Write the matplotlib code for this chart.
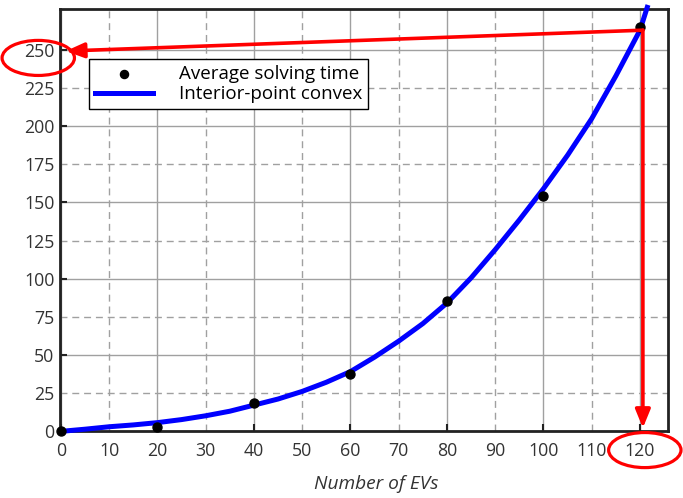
import matplotlib
matplotlib.use('Agg')
import matplotlib.pyplot as plt
from matplotlib.patches import Ellipse

# measured solving times
ev_counts = [0, 20, 40, 60, 80, 100, 120]
solve_times = [0, 2.6, 18.6, 37.5, 85, 154, 265]

# interior-point convex curve
curve_x = [1.5, 5, 10, 15, 20, 25, 30, 35, 40, 45, 50, 55, 60, 65, 70,
           75, 80, 85, 90, 95, 100, 105, 110, 115, 120, 121.5]
curve_y = [0.2, 1.2, 2.8, 4, 5.5, 7.5, 10, 13, 17, 21, 26, 32, 39, 48.5, 59,
           70.5, 84, 100.5, 119, 138.5, 159, 181, 205, 233, 263, 278]

x_major = [0, 20, 40, 60, 80, 100, 120]
x_minor = [10, 30, 50, 70, 90, 110]
y_major = [0, 50, 100, 150, 200, 250]
y_minor = [25, 75, 125, 175, 225]

# highlighted reading
hit_x, hit_y = 120.6, 263

plt.rcParams['font.family'] = ['Open Sans', 'DejaVu Sans']

fig = plt.figure(figsize=(6.83, 4.98), dpi=100)
ax = fig.add_axes([0.0878, 0.1345, 0.8902, 0.8465])
ax.set_xlim(-0.2, 125.8)
ax.set_ylim(0, 276.6)

ax.set_xticks(x_major, [str(v) for v in x_major])
ax.set_xticks(x_minor, [str(v) for v in x_minor], minor=True)
ax.set_yticks(y_major, [str(v) for v in y_major])
ax.set_yticks(y_minor, [str(v) for v in y_minor], minor=True)

ax.grid(which='major', color='#a0a0a0', linewidth=1.0, linestyle='-')
ax.grid(which='minor', color='#a0a0a0', linewidth=1.0, linestyle=(0, (5, 3.5)))
ax.set_axisbelow(True)

ax.tick_params(which='major', direction='in', length=5, width=1.5, color='#222222',
               labelsize=12.8, labelcolor='#333333')
ax.tick_params(which='minor', length=0, labelsize=12.8, labelcolor='#333333')
ax.tick_params(axis='x', which='both', pad=8)
ax.tick_params(axis='y', which='both', pad=4)

for s in ax.spines.values():
    s.set_linewidth(2)
    s.set_color('#222222')

ax.scatter(ev_counts, solve_times, s=42, color='black', zorder=4, clip_on=False,
           label='Average solving time')
ax.plot(curve_x, curve_y, color='#0000ff', linewidth=3.6, zorder=3, clip_on=False,
        solid_joinstyle='round', label='Interior-point convex')

arrow = dict(arrowstyle='-|>,head_length=1.1,head_width=0.45', color='#ff0000',
             linewidth=2.6, shrinkA=0, shrinkB=0)
ax.annotate('', xy=(1, 249.3), xytext=(hit_x, hit_y), arrowprops=arrow,
            annotation_clip=False, zorder=5)
ax.annotate('', xy=(hit_x, 2), xytext=(hit_x, hit_y), arrowprops=arrow,
            annotation_clip=False, zorder=5)

for cx, cy in [(-4.7, 244.8), (121, -12.5)]:
    ax.add_patch(Ellipse((cx, cy), 15.0, 23.0, fill=False, edgecolor='#ff0000',
                         linewidth=2.3, clip_on=False, zorder=6))

leg = ax.legend(loc='upper left', bbox_to_anchor=(0.048, 0.8826), fontsize=13.5,
                frameon=True, fancybox=False, framealpha=1, edgecolor='black',
                handlelength=3.1, handletextpad=1.4, labelspacing=0.15,
                borderpad=0.3, borderaxespad=0, markerscale=0.9)
leg.get_frame().set_linewidth(1.0)

ax.set_xlabel('Number of EVs', fontsize=13.8, style='italic', color='#333333')
ax.xaxis.set_label_coords(0.52, -0.105)

fig.savefig('out.png', dpi=100)
